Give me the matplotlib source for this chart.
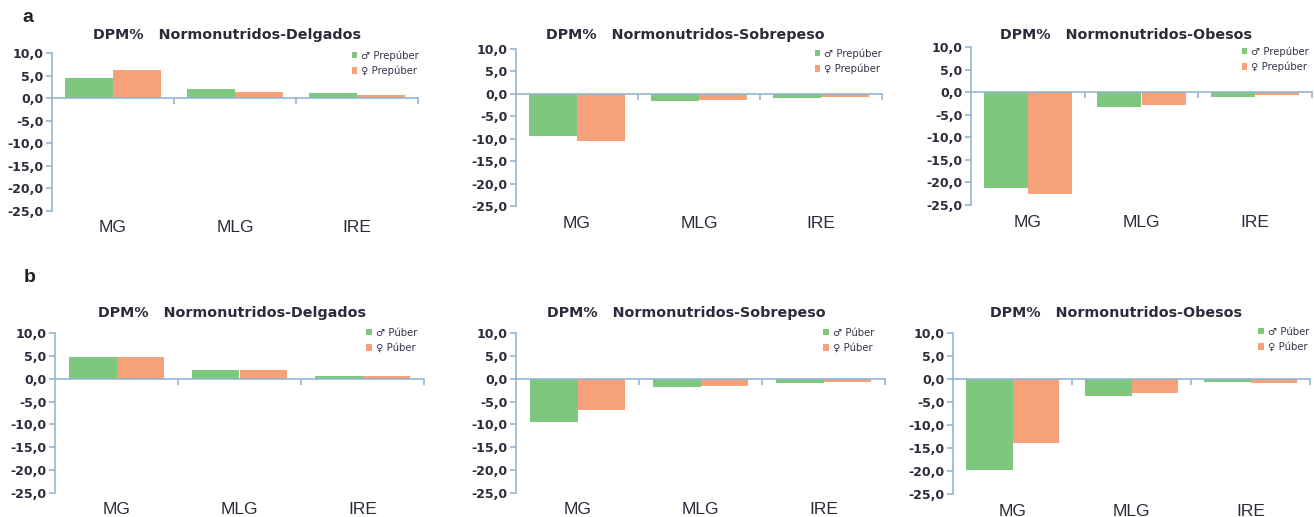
import matplotlib
matplotlib.use("Agg")
import matplotlib.pyplot as plt
from matplotlib.ticker import FuncFormatter
import numpy as np

plt.rcParams['font.family'] = ['Liberation Sans', 'DejaVu Sans']

categories = ["MG", "MLG", "IRE"]
titles = ["DPM%   Normonutridos-Delgados", "DPM%   Normonutridos-Sobrepeso", "DPM%   Normonutridos-Obesos"]

# Row a: prepubertal
a_male = [[4.4, 2.0, 1.2], [-9.3, -1.7, -1.0], [-21.2, -3.4, -1.0]]
a_female = [[6.2, 1.3, 0.8], [-10.4, -1.3, -0.7], [-22.6, -2.9, -0.7]]
a_labels = ["\u2642 Prepúber", "\u2640 Prepúber"]

# Row b: pubertal
b_male = [[4.7, 1.9, 0.5], [-9.4, -1.8, -1.0], [-19.8, -3.6, -0.7]]
b_female = [[4.8, 1.9, 0.5], [-6.8, -1.5, -0.7], [-14.0, -3.0, -0.9]]
b_labels = ["\u2642 Púber", "\u2640 Púber"]

yticks = [10, 5, 0, -5, -10, -15, -20, -25]

GREEN = "#7ec77f"
ORANGE = "#f5a27b"
AXC = "#93b6d2"
TXT = "#2b2b3a"
WIDE = ['DejaVu Sans']

W, H = 1314, 517
fig = plt.figure(figsize=(W / 100, H / 100), dpi=100)

# pixel boxes: left, right, top, bottom
boxes = {
    ("a", 0): (52, 418, 53, 211),
    ("a", 1): (516, 882, 49, 206),
    ("a", 2): (971, 1312, 47, 205),
    ("b", 0): (55, 424, 333, 493),
    ("b", 1): (516, 885, 333, 493),
    ("b", 2): (953, 1310, 333, 494),
}
# legend anchor (right x, top y) in pixels
leg_anchor = {
    ("a", 0): (421, 48),
    ("a", 1): (884, 46),
    ("a", 2): (1311, 44),
    ("b", 0): (419, 326),
    ("b", 1): (876, 326),
    ("b", 2): (1311, 325),
}
title_y = {"a": 35, "b": 313}
title_cx = {0: -8, 1: -14, 2: -16}

fmt = FuncFormatter(lambda v, p: ("%.1f" % v).replace(".", ",").replace("\u2212", "-"))

def draw(row, idx, male, female, labels):
    l, r, t, b = boxes[(row, idx)]
    ax = fig.add_axes([l / W, 1 - b / H, (r - l) / W, (b - t) / H])
    x = np.arange(len(categories))
    w = 0.39
    ax.bar(x - w / 2, male, w, color=GREEN, label=labels[0], zorder=2)
    ax.bar(x + w / 2, female, w, color=ORANGE, label=labels[1], zorder=2)
    ax.set_xlim(-0.5, len(categories) - 0.5)
    ax.set_ylim(-25, 10)
    ax.set_yticks(yticks)
    ax.yaxis.set_major_formatter(fmt)
    for s in ["top", "right"]:
        ax.spines[s].set_visible(False)
    ax.spines["left"].set_color(AXC)
    ax.spines["left"].set_linewidth(1.2)
    ax.spines["bottom"].set_position(("data", 0))
    ax.spines["bottom"].set_color(AXC)
    ax.spines["bottom"].set_linewidth(1.2)
    ax.spines["bottom"].set_zorder(3)
    ax.set_xticks([0.5, 1.5, 2.5])
    ax.set_xticklabels([])
    ax.tick_params(axis="x", direction="out", length=4, color=AXC, width=1.2)
    ax.tick_params(axis="y", direction="out", length=4, color=AXC, width=1.2,
                   labelsize=9, labelcolor=TXT, pad=2)
    for lab in ax.get_yticklabels():
        lab.set_fontweight("bold")
        lab.set_family(WIDE)
    lab_y = (b - (b + 17)) / (b - t)
    for xi, c in zip(x, categories):
        ax.text(xi, lab_y, c, transform=ax.get_xaxis_transform(), ha="center", va="center",
                fontsize=12.5, color=TXT)
    # title
    cx = ((l + r) / 2 + title_cx[idx] - l) / (r - l)
    ty = (b - title_y[row]) / (b - t)
    ax.text(cx, ty, titles[idx], transform=ax.transAxes, ha="center", va="center",
            fontsize=10.3, fontweight="bold", color=TXT, family=WIDE)
    lx, ly = leg_anchor[(row, idx)]
    leg = ax.legend(loc="upper right", bbox_to_anchor=((lx - l) / (r - l), (b - ly) / (b - t)),
                    frameon=False, prop={'family': WIDE, 'size': 7.3},
                    handlelength=0.55, handleheight=0.55, handletextpad=0.4,
                    labelspacing=0.5, borderaxespad=0.0, borderpad=0.2)
    for tx in leg.get_texts():
        tx.set_color("#34344a")
    return ax

for i in range(3):
    draw("a", i, a_male[i], a_female[i], a_labels)
    draw("b", i, b_male[i], b_female[i], b_labels)

fig.text(28 / W, 1 - 18 / H, "a", fontsize=14, fontweight="bold", color="#222", ha="center", va="center")
fig.text(30 / W, 1 - 278 / H, "b", fontsize=14, fontweight="bold", color="#222", ha="center", va="center")

fig.savefig("out.png", dpi=100, facecolor="white")
